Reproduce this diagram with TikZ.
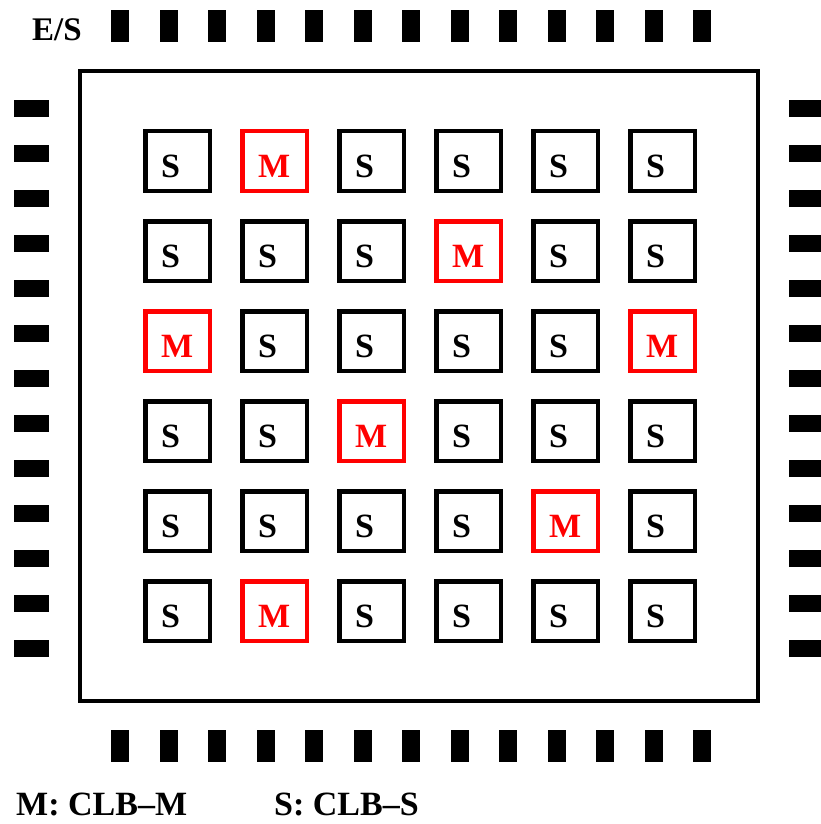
\documentclass[tikz,border=0pt]{standalone}
\usepackage{fontspec}
\setmainfont{Liberation Serif}
\begin{document}
\begin{tikzpicture}[x=1pt,y=-1pt,
  pad/.style={fill=black},
  chipbox/.style={draw=black,line width=4pt},
  cellbase/.style={rectangle,line width=4.5pt,minimum width=64.5pt,minimum height=59.5pt,inner sep=0pt},
  cellS/.style={cellbase,draw=black},
  cellM/.style={cellbase,draw=red},
  lblS/.style={font=\fontsize{34}{40}\selectfont\bfseries,text=black,inner sep=0pt,anchor=base west},
  lblM/.style={font=\fontsize{34}{40}\selectfont\bfseries,text=red,inner sep=0pt,anchor=base west},
  legend/.style={font=\fontsize{34}{40}\selectfont\bfseries,inner sep=0pt,anchor=base west}]
\useasboundingbox (0,0) rectangle (821,824);
% I/O pads
\foreach \i in {0,...,12} {
  \fill[pad] ({111+48.5*\i},10) rectangle ++(18,32);
  \fill[pad] ({111+48.5*\i},730) rectangle ++(18,32);
  \fill[pad] (14,{100+45*\i}) rectangle ++(35,17);
  \fill[pad] (789,{100+45*\i}) rectangle ++(35,17);
}
% chip outline
\node[chipbox,minimum width=678pt,minimum height=630pt,inner sep=0pt] (chip) at (419,386) {};
% CLB cells
\foreach \r/\types in {0/{S,M,S,S,S,S},1/{S,S,S,M,S,S},2/{M,S,S,S,S,M},3/{S,S,M,S,S,S},4/{S,S,S,S,M,S},5/{S,M,S,S,S,S}} {
  \foreach \t [count=\c from 0] in \types {
    \node[cell\t] (c\r-\c) at ({143+97*\c+34.5},{129+90*\r+32}) {};
    \node[lbl\t] (l\r-\c) at ({143+97*\c+18},{129+90*\r+48}) {\t};
  }
}
% labels
\node[legend,font=\fontsize{33}{38}\selectfont\bfseries] (es) at (32,41) {E/S};
\node[legend] (legM) at (16,815) {M: CLB\textendash M};
\node[legend] (legS) at (274,815) {S: CLB\textendash S};
\end{tikzpicture}
\end{document}
